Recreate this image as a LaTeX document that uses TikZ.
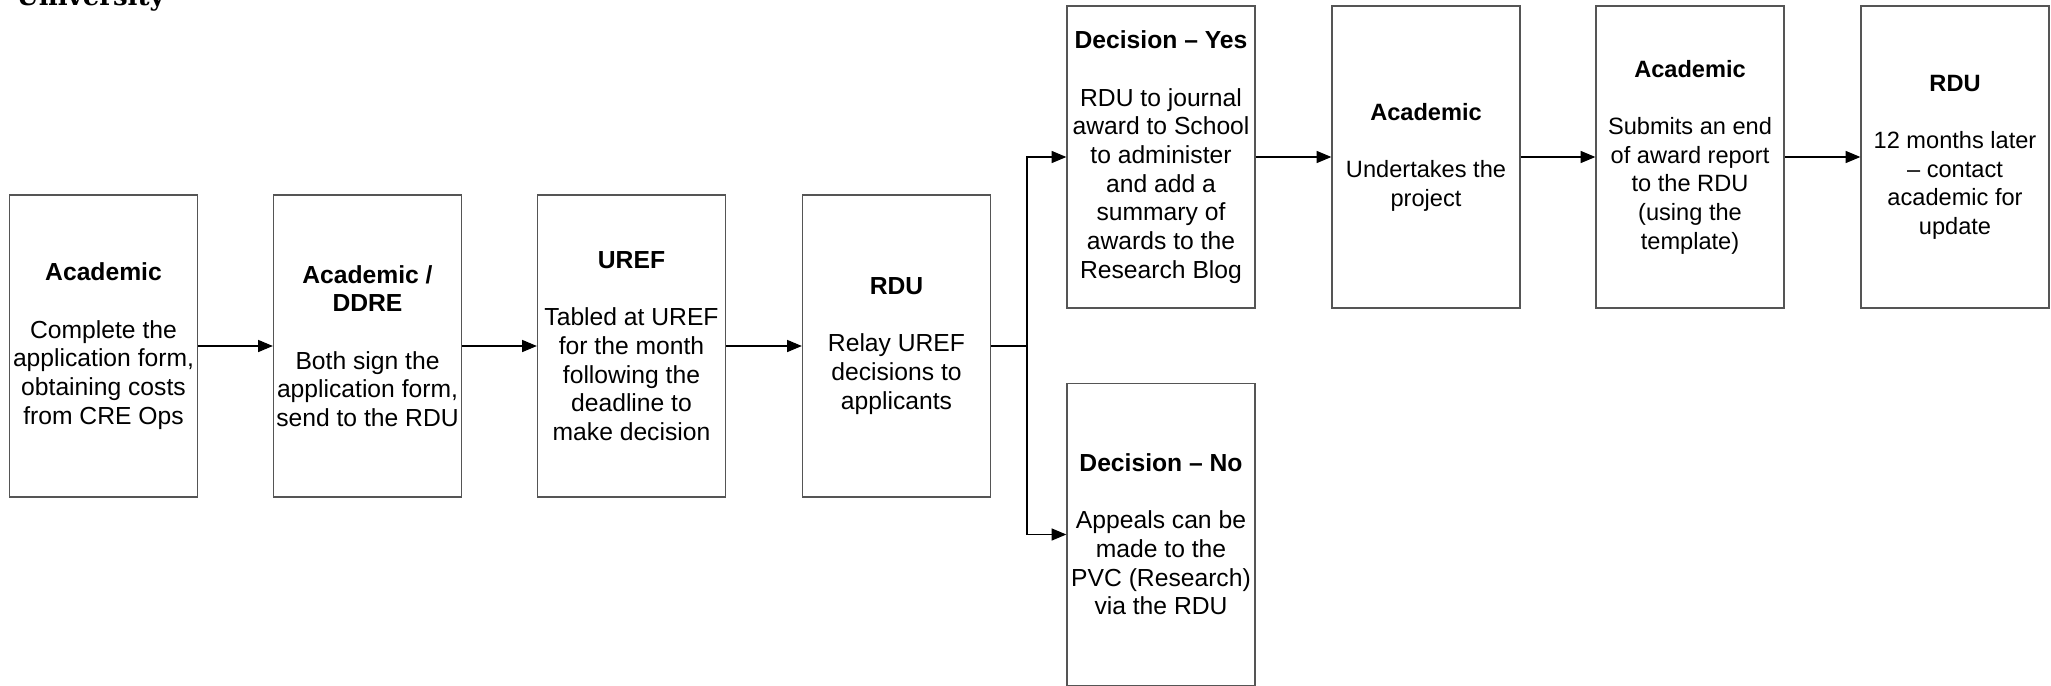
\documentclass[tikz,border=0pt]{standalone}
\usepackage{fontspec}
\setmainfont{Liberation Sans}
\newfontfamily\unifont{DejaVu Serif}
\usetikzlibrary{arrows.meta}
\begin{document}
\begin{tikzpicture}[x=0.75pt,y=-0.75pt,
  box/.style={draw={rgb,255:red,85;green,85;blue,85}, line width=1pt, rectangle,
    minimum width=141pt, minimum height=226.5pt, inner sep=0pt, align=center,
    font=\fontsize{18.5}{21.5}\selectfont},
  rbox/.style={box, font=\fontsize{17.7}{21.5}\selectfont},
  conn/.style={draw=black, line width=0.9pt},
  arr/.style={conn, -{Triangle[length=11pt,width=9pt]}}]
\useasboundingbox (0,0) rectangle (2051,685);
\clip (0,0) rectangle (2051,685);
\node[anchor=base west, inner sep=0pt, font=\unifont\bfseries\fontsize{19.5}{19.5}\selectfont] (uni) at (16,6) {University};

\node[box] (b1) at (103.5,346) {\textbf{Academic}\\[21.5pt]Complete the\\application form,\\obtaining costs\\from CRE Ops};
\node[box] (b2) at (367.5,346) {\textbf{Academic /}\\\textbf{DDRE}\\[21.5pt]Both sign the\\application form,\\send to the RDU};
\node[box] (b3) at (631.5,346) {\textbf{UREF}\\[21.5pt]Tabled at UREF\\for the month\\following the\\deadline to\\make decision};
\node[box] (b4) at (896.5,346) {\textbf{RDU}\\[21.5pt]Relay UREF\\decisions to\\applicants};
\node[box] (yes) at (1161,157) {\textbf{Decision -- Yes}\\[21.5pt]RDU to journal\\award to School\\to administer\\and add a\\summary of\\awards to the\\Research Blog};
\node[box] (no) at (1161,534.5) {\textbf{Decision -- No}\\[21.5pt]Appeals can be\\made to the\\PVC (Research)\\via the RDU};
\node[rbox] (r1) at (1426,157) {\textbf{Academic}\\[21.5pt]Undertakes the\\project};
\node[rbox] (r2) at (1690,157) {\textbf{Academic}\\[21.5pt]Submits an end\\of award report\\to the RDU\\(using the\\template)};
\node[rbox] (r3) at (1955,157) {\textbf{RDU}\\[21.5pt]12 months later\\-- contact\\academic for\\update};

\coordinate (j) at (1027,346);
\draw[arr] (b1) -- (b2);
\draw[arr] (b2) -- (b3);
\draw[arr] (b3) -- (b4);
\draw[conn] (b4.east) -- (j);
\draw[arr] (j) |- (yes.west);
\draw[arr] (j) |- (no.west);
\draw[arr] (yes) -- (r1);
\draw[arr] (r1) -- (r2);
\draw[arr] (r2) -- (r3);
\end{tikzpicture}
\end{document}
